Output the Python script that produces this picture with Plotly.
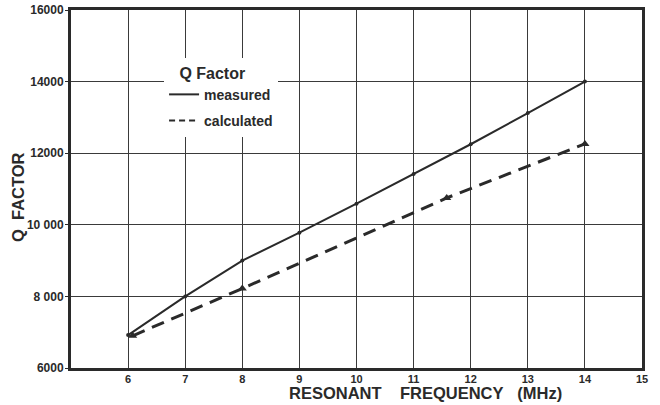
import plotly.graph_objects as go

# Data
measured_freq = [6, 7, 8, 9, 10, 11, 12, 13, 14]
measured_q = [6920, 8000, 9000, 9780, 10590, 11420, 12250, 13120, 14000]

calc_freq = [6.08, 8.0, 11.58, 14.0]
calc_q = [6900, 8220, 10750, 12260]

x_ticks = [6, 7, 8, 9, 10, 11, 12, 13, 14, 15]
y_ticks = [6000, 8000, 10000, 12000, 14000, 16000]
y_tick_text = ["6000", "8 000", "10 000", "12000", "14000", "16000"]

INK = "#2a2a2a"
FONT = "Liberation Sans"

fig = go.Figure()

# data traces
fig.add_trace(go.Scatter(
    x=measured_freq, y=measured_q, mode="lines+markers",
    line=dict(color=INK, width=2),
    marker=dict(size=4, color=INK),
    showlegend=False, hoverinfo="skip"))
fig.add_trace(go.Scatter(
    x=calc_freq, y=calc_q, mode="lines+markers",
    line=dict(color=INK, width=3, dash="13px,8px"),
    marker=dict(size=8, color=INK, symbol="triangle-up"),
    showlegend=False, hoverinfo="skip"))

# legend-only entries (line samples)
fig.add_trace(go.Scatter(
    x=[None], y=[None], mode="lines", name="measured", legendgroup="m",
    line=dict(color=INK, width=2)))
fig.add_trace(go.Scatter(
    x=[None], y=[None], mode="lines", name="calculated", legendgroup="c",
    line=dict(color=INK, width=2, dash="6px,4px")))

fig.update_layout(
    template="simple_white",
    width=660, height=405,
    margin=dict(l=71, r=18, t=10, b=37, autoexpand=False),
    paper_bgcolor="white", plot_bgcolor="white",
    font=dict(family=FONT, color=INK, size=11),
    legend=dict(
        x=0.163, y=0.866, xanchor="left", yanchor="top",
        bgcolor="white", borderwidth=0,
        title=dict(text="&nbsp;&nbsp;&nbsp;Q Factor",
                   font=dict(family=FONT, size=16, color=INK, weight="bold")),
        font=dict(family=FONT, size=14, color=INK, weight="bold"),
        itemwidth=30, tracegroupgap=5),
    xaxis=dict(
        range=[5, 15], tickmode="array", tickvals=x_ticks, automargin=False,
        showgrid=True, gridcolor="#3a3a3a", gridwidth=1,
        showline=True, linecolor=INK, linewidth=3, mirror=True,
        ticks="", zeroline=False,
        tickfont=dict(family=FONT, size=11, color=INK, weight="bold"),
        ticklabelstandoff=-1),
    yaxis=dict(
        range=[6000, 16000], tickmode="array", tickvals=y_ticks, ticktext=y_tick_text,
        automargin=False,
        showgrid=True, gridcolor="#3a3a3a", gridwidth=1,
        showline=True, linecolor=INK, linewidth=3, mirror=True,
        ticks="outside", ticklen=3, tickcolor=INK, zeroline=False,
        tickfont=dict(family=FONT, size=12, color=INK, weight="bold"),
        ticklabelstandoff=-1),
    annotations=[
        dict(text="RESONANT&nbsp;&nbsp;&nbsp;&nbsp;FREQUENCY&nbsp;&nbsp;&nbsp;(MHz)",
             xref="paper", yref="paper", x=0.62, y=0, xanchor="center", yanchor="middle",
             yshift=-25, showarrow=False,
             font=dict(family=FONT, size=16.5, color=INK, weight="bold")),
        dict(text="Q&nbsp;&nbsp;FACTOR",
             xref="paper", yref="paper", x=0, y=0.5, xanchor="center", yanchor="middle",
             xshift=-53, yshift=-8, textangle=-90, showarrow=False,
             font=dict(family=FONT, size=16.5, color=INK, weight="bold")),
    ],
)

# remove the default 8px page margin so the figure fills the window exactly
fig.write_html("out.html",
               config={"displayModeBar": False},
               post_script="document.body.style.margin='0';document.body.style.overflow='hidden';")
